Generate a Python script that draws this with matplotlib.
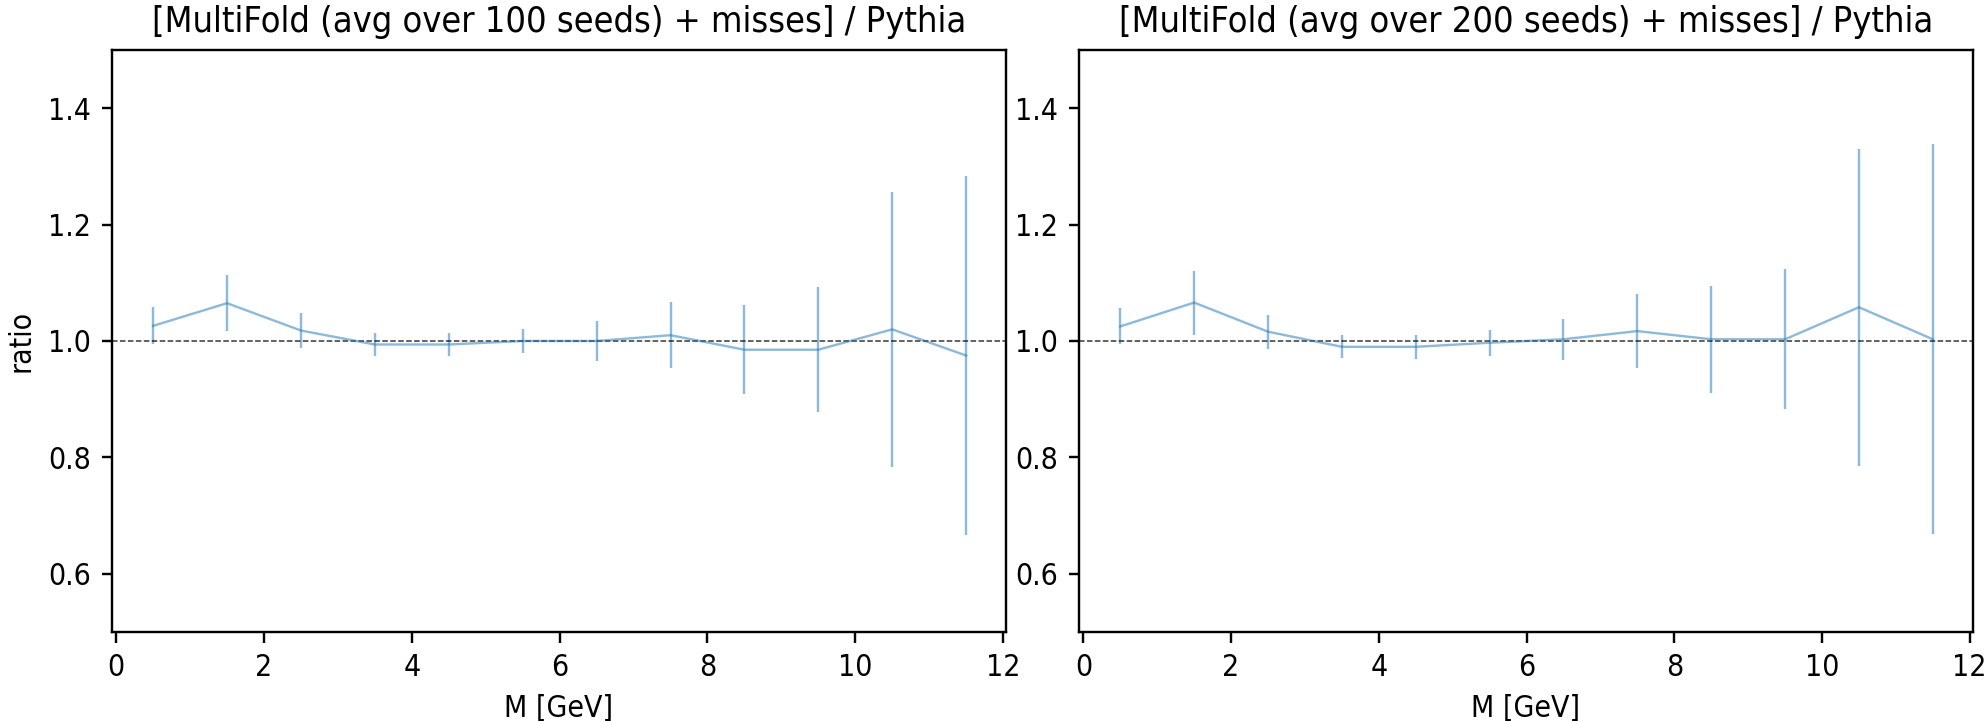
import numpy as np
import matplotlib.pyplot as plt

# bin centres of the mass histogram
m_centers = [0.5, 1.5, 2.5, 3.5, 4.5, 5.5, 6.5, 7.5, 8.5, 9.5, 10.5, 11.5]

# ratio and uncertainty, 100 seeds
ratio_100 = [1.026, 1.065, 1.018, 0.994, 0.994, 1.000, 1.000, 1.010, 0.985, 0.985, 1.020, 0.975]
err_100 = [0.032, 0.048, 0.030, 0.019, 0.019, 0.021, 0.035, 0.057, 0.076, 0.107, 0.236, 0.308]

# ratio and uncertainty, 200 seeds
ratio_200 = [1.025, 1.066, 1.016, 0.990, 0.990, 0.997, 1.003, 1.017, 1.003, 1.003, 1.058, 1.003]
err_200 = [0.031, 0.055, 0.029, 0.020, 0.021, 0.022, 0.035, 0.064, 0.092, 0.120, 0.272, 0.335]

seeds = [100, 200]

plt.rcParams["font.family"] = ["DejaVu Sans"]
plt.rcParams["font.stretch"] = "condensed"

fig = plt.figure(figsize=(1984 / 216, 721 / 216), dpi=216)
axs = [fig.add_axes([0.0563, 0.1234, 0.4508, 0.8073]),
       fig.add_axes([0.5438, 0.1234, 0.4505, 0.8073])]

for ax, ratio, err, n in zip(axs, [ratio_100, ratio_200], [err_100, err_200], seeds):
    ax.errorbar(m_centers, ratio, yerr=err, color="tab:blue", alpha=0.5, lw=0.8)
    ax.axhline(1.0, color="black", ls="--", lw=0.5, alpha=0.8)
    ax.set_ylim(0.5, 1.5)
    ax.set_xlim(-0.06, 12.04)
    ax.set_xlabel("M [GeV]")
    ax.set_title(f"[MultiFold (avg over {n} seeds) + misses] / Pythia")

axs[0].set_ylabel("ratio")

fig.savefig("out.png", dpi=216)
